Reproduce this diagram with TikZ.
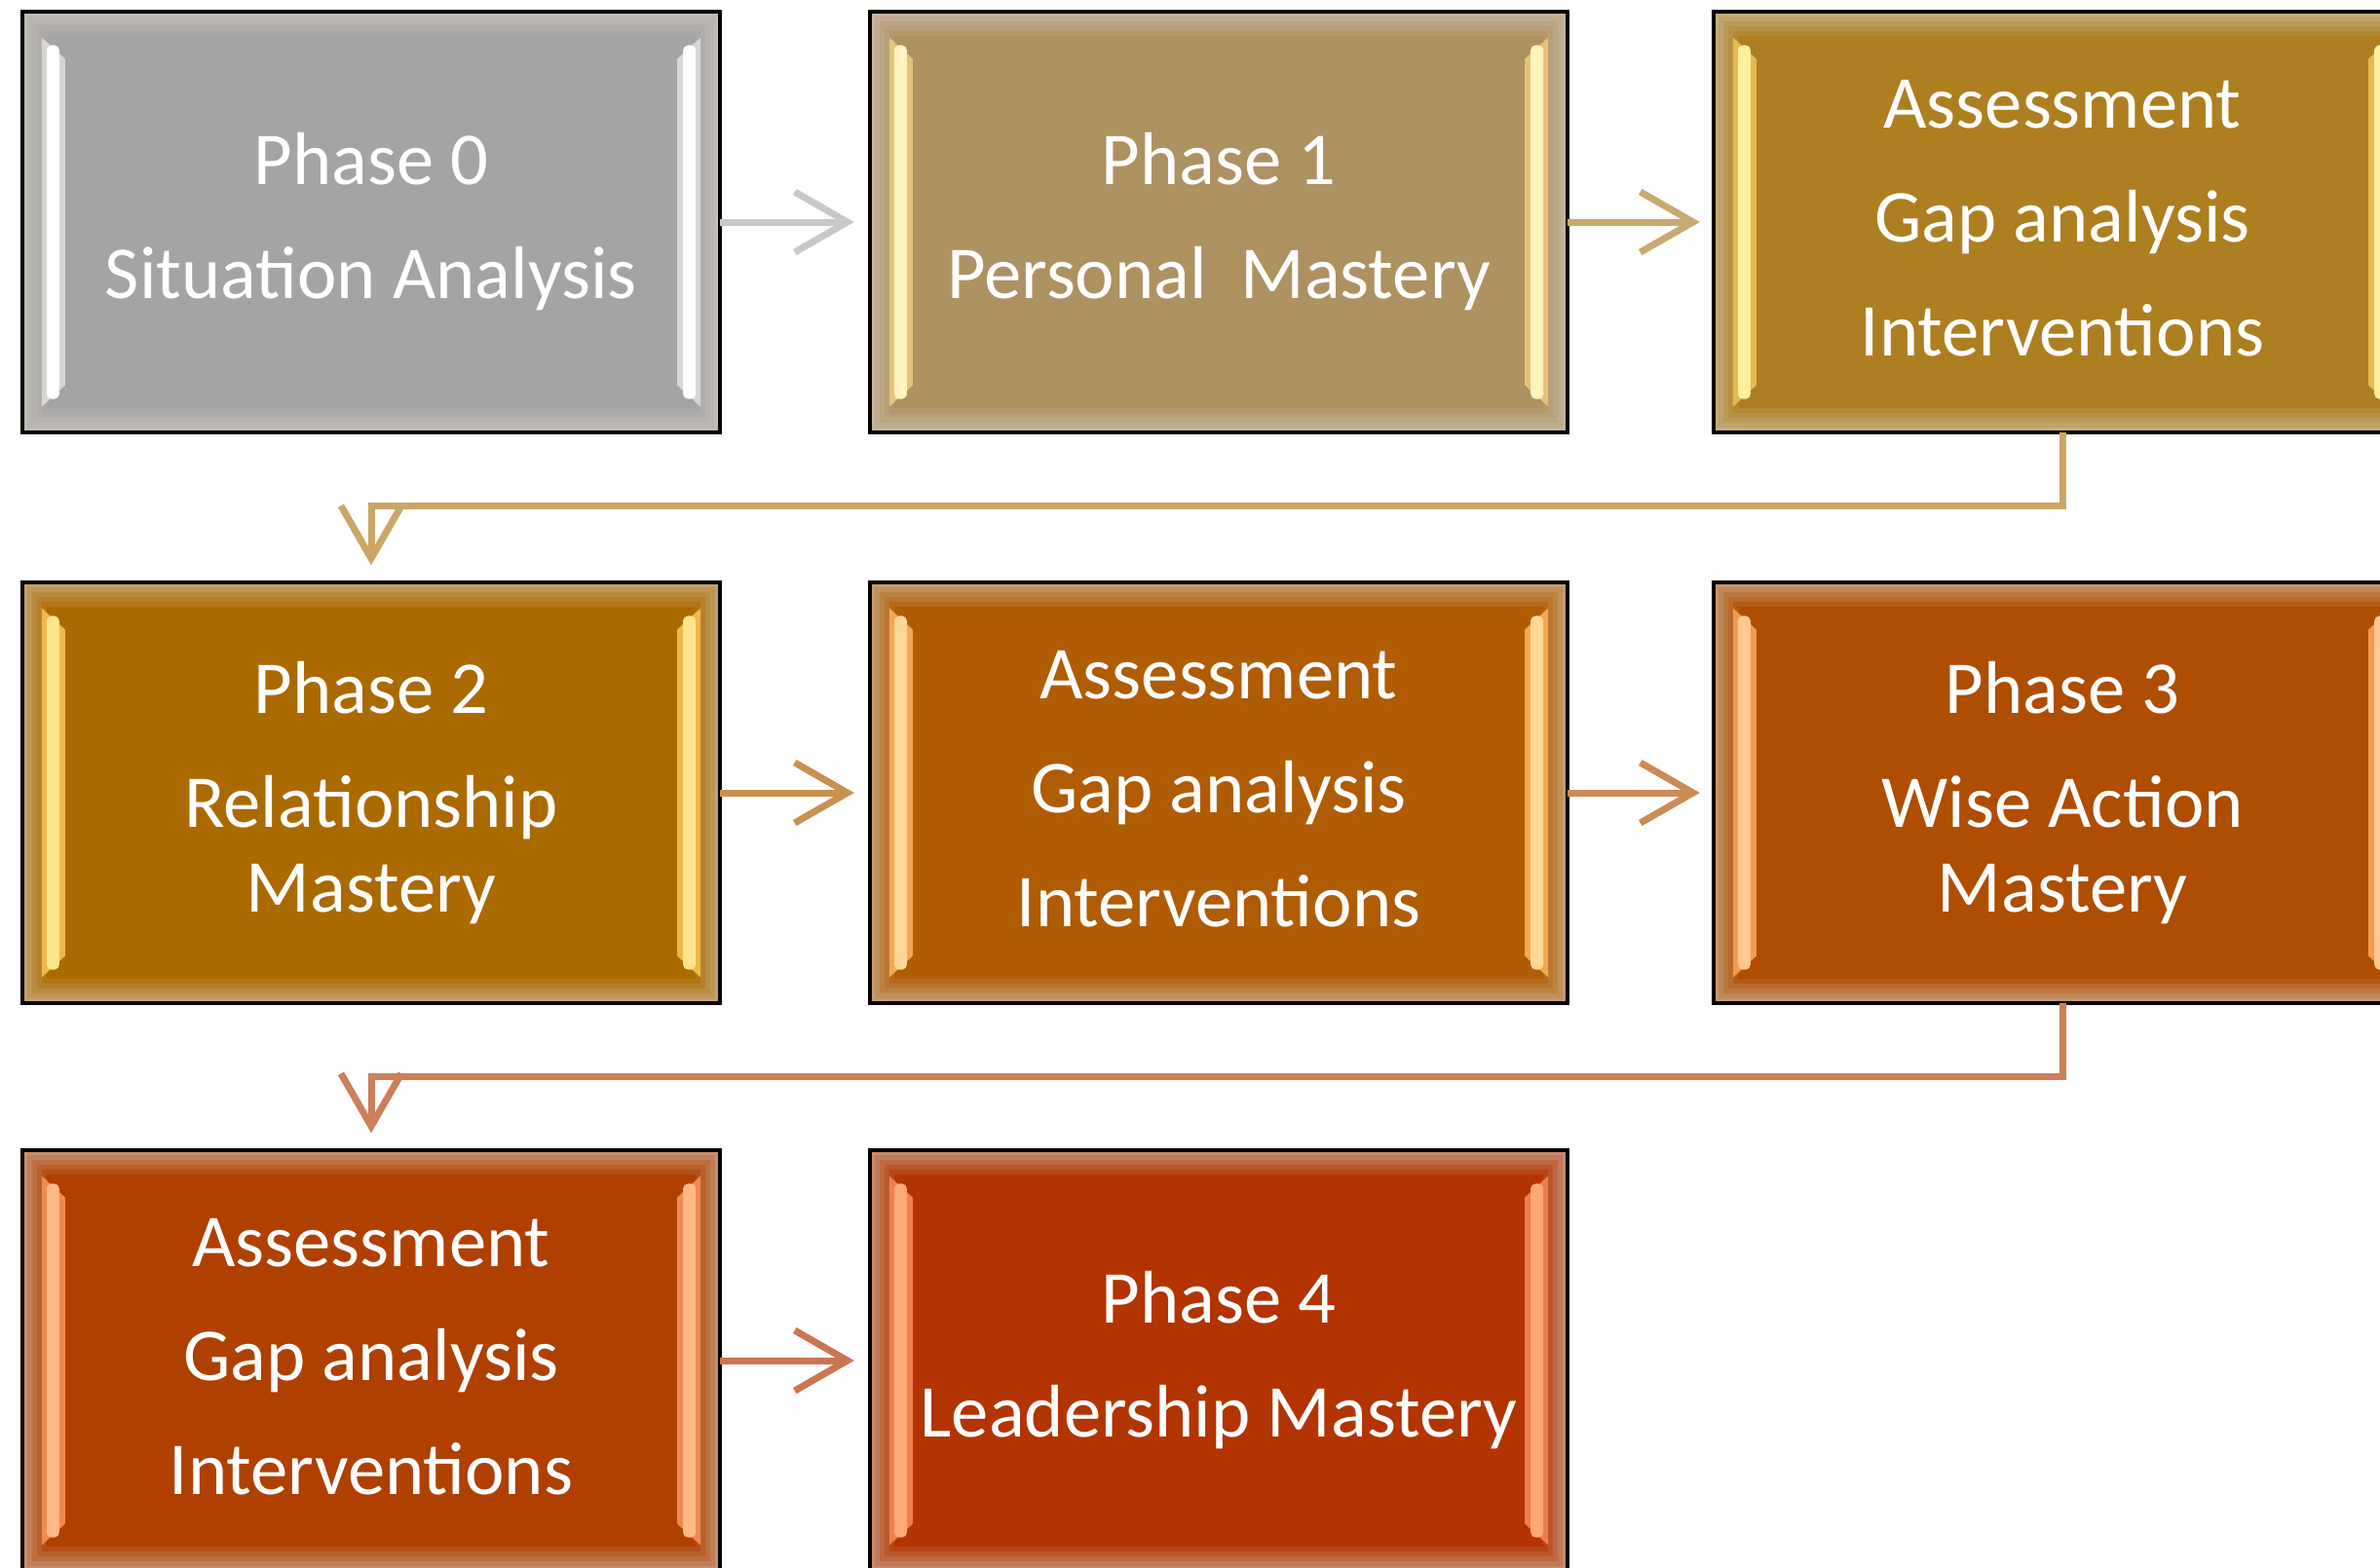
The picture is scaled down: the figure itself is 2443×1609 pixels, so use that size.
\documentclass[tikz,border=0pt]{standalone}
\usepackage{fontspec}
\setmainfont{Carlito}
\usetikzlibrary{arrows.meta}
\definecolor{edgegray}{RGB}{214,208,198}
% main / highlight / rim colours
\definecolor{m0}{HTML}{A4A4A4}\definecolor{h0}{HTML}{FFFFFF}\definecolor{r0}{HTML}{D6D6D6}
\definecolor{m1}{HTML}{AE9161}\definecolor{h1}{HTML}{FFF3C0}\definecolor{r1}{HTML}{E6C27A}
\definecolor{m2}{HTML}{AD7F21}\definecolor{h2}{HTML}{FFF0A0}\definecolor{r2}{HTML}{E9B850}
\definecolor{m3}{HTML}{AB6A00}\definecolor{h3}{HTML}{FFE58A}\definecolor{r3}{HTML}{F0B848}
\definecolor{m4}{HTML}{B05C04}\definecolor{h4}{HTML}{FFD898}\definecolor{r4}{HTML}{F2A850}
\definecolor{m5}{HTML}{AF4D00}\definecolor{h5}{HTML}{FFC890}\definecolor{r5}{HTML}{F29A50}
\definecolor{m6}{HTML}{B04000}\definecolor{h6}{HTML}{FFB888}\definecolor{r6}{HTML}{F08A50}
\definecolor{m7}{HTML}{B23400}\definecolor{h7}{HTML}{FFA878}\definecolor{r7}{HTML}{EE7E4E}
% connector colours
\definecolor{c01}{HTML}{C8C8C8}
\definecolor{c12}{HTML}{C9AA70}
\definecolor{c23}{HTML}{CBA765}
\definecolor{c34}{HTML}{C9914F}
\definecolor{c45}{HTML}{CC8A55}
\definecolor{c56}{HTML}{CB7F5A}
\definecolor{c67}{HTML}{CC7552}
\newcommand\boxfont{\fontsize{21.8pt}{24.75pt}\selectfont}
\tikzset{
  phasebox/.style n args={3}{
    draw=black, line width=0.04cm, fill=#1,
    minimum width=7.16cm, minimum height=4.31cm,
    inner sep=0pt, outer sep=0pt, align=center, text=white, font=\boxfont,
    path picture={
      \colorlet{pbedge}{#1!45!edgegray}
      \foreach \d/\p in {0mm/100,0.5mm/80,1.0mm/60,1.5mm/40,2.0mm/20,2.5mm/0}{
        \fill[pbedge!\p!#1]
          ([xshift=\d,yshift=\d]path picture bounding box.south west) rectangle
          ([xshift=-\d,yshift=-\d]path picture bounding box.north east);
      }
      % left bar
      \fill[#3]
        ([xshift=2.0mm,yshift=2.6mm]path picture bounding box.south west) --
        ([xshift=2.0mm,yshift=-2.6mm]path picture bounding box.north west) --
        ([xshift=4.4mm,yshift=-4.8mm]path picture bounding box.north west) --
        ([xshift=4.4mm,yshift=4.8mm]path picture bounding box.south west) -- cycle;
      \fill[#2, rounded corners=0.5mm]
        ([xshift=2.5mm,yshift=3.4mm]path picture bounding box.south west) rectangle
        ([xshift=3.8mm,yshift=-3.4mm]path picture bounding box.north west);
      % right bar
      \fill[#3]
        ([xshift=-2.0mm,yshift=2.6mm]path picture bounding box.south east) --
        ([xshift=-2.0mm,yshift=-2.6mm]path picture bounding box.north east) --
        ([xshift=-4.4mm,yshift=-4.8mm]path picture bounding box.north east) --
        ([xshift=-4.4mm,yshift=4.8mm]path picture bounding box.south east) -- cycle;
      \fill[#2, rounded corners=0.5mm]
        ([xshift=-2.5mm,yshift=3.4mm]path picture bounding box.south east) rectangle
        ([xshift=-3.8mm,yshift=-3.4mm]path picture bounding box.north east);
    }
  },
  conn/.style={line width=0.07cm, -{Straight Barb[length=0.54cm,width=0.62cm]}},
}
\begin{document}
\begin{tikzpicture}[x=0.01cm,y=0.01cm]
\useasboundingbox (0,0) rectangle (2443,-1609);
\clip (0,0) rectangle (2443,-1609);
\fill[white] (0,0) rectangle (2443,-1609);

\node[phasebox={m0}{h0}{r0}] (p0) at (381,-228)
  {\vphantom{Ph}Phase 0\\[8.5pt]Situation Analysis\vphantom{y}};
\node[phasebox={m1}{h1}{r1}] (p1) at (1251,-228)
  {\vphantom{Ph}Phase 1\\[8.5pt]Personal~ Mastery\vphantom{y}};
\node[phasebox={m2}{h2}{r2}] (a1) at (2117,-228)
  {\vphantom{Ph}Assessment\\[8.5pt]Gap analysis\\[8.5pt]Interventions\vphantom{y}};

\node[phasebox={m3}{h3}{r3}] (p2) at (381,-814)
  {\vphantom{Ph}Phase 2\\[8.5pt]Relationship\\Mastery\vphantom{y}};
\node[phasebox={m4}{h4}{r4}] (a2) at (1251,-814)
  {\vphantom{Ph}Assessment\\[8.5pt]Gap analysis\\[8.5pt]Interventions\vphantom{y}};
\node[phasebox={m5}{h5}{r5}] (p3) at (2117,-814)
  {\vphantom{Ph}Phase 3\\[8.5pt]Wise Action\\Mastery\vphantom{y}};

\node[phasebox={m6}{h6}{r6}] (a3) at (381,-1397)
  {\vphantom{Ph}Assessment\\[8.5pt]Gap analysis\\[8.5pt]Interventions\vphantom{y}};
\node[phasebox={m7}{h7}{r7}] (p4) at (1251,-1397)
  {\vphantom{Ph}Phase 4\\[8.5pt]Leadership Mastery\vphantom{y}};

\draw[conn, color=c01, shorten >=0.16cm] (p0) -- (p1);
\draw[conn, color=c12, shorten >=0.14cm] (p1) -- (a1);
\draw[conn, color=c23, shorten >=0.18cm] (a1.south) -- ++(0,-76) -| (p2.north);
\draw[conn, color=c34, shorten >=0.16cm] (p2) -- (a2);
\draw[conn, color=c45, shorten >=0.14cm] (a2) -- (p3);
\draw[conn, color=c56, shorten >=0.18cm] (p3.south) -- ++(0,-76) -| (a3.north);
\draw[conn, color=c67, shorten >=0.16cm] (a3) -- (p4);
\end{tikzpicture}
\end{document}
